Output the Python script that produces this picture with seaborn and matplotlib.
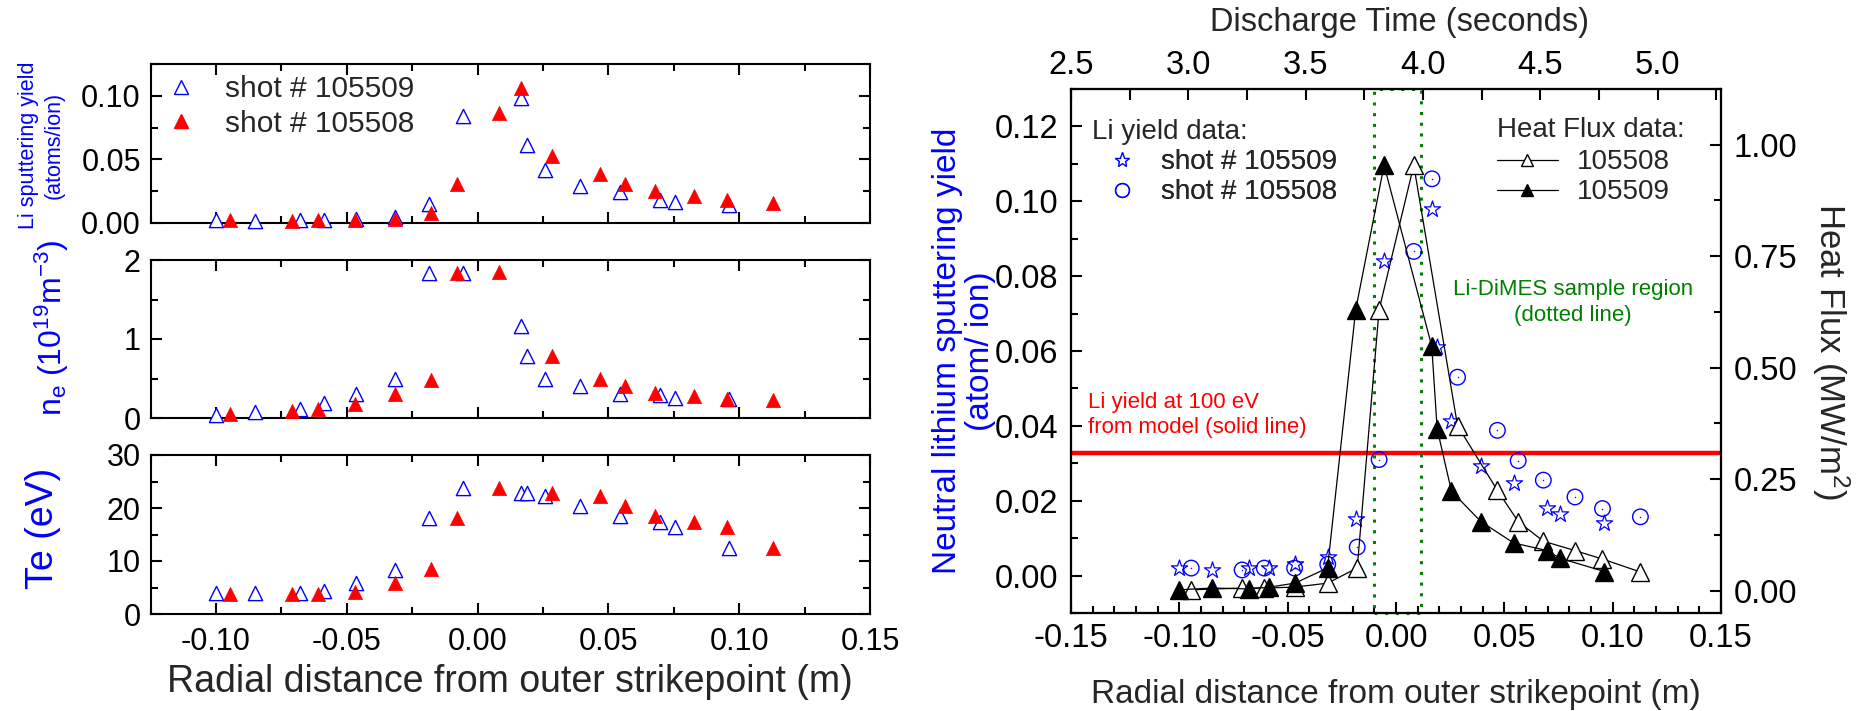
import matplotlib
matplotlib.use("Agg")
import matplotlib.pyplot as plt
from matplotlib.lines import Line2D
from matplotlib.ticker import MultipleLocator, FormatStrFormatter
import seaborn as sns

# ---- values ----
# shot 105509 (radial distance from outer strikepoint, m)
r_509 = [-0.100, -0.085, -0.068, -0.0585, -0.0466, -0.0316, -0.0186, -0.0055,
         0.0165, 0.019, 0.0256, 0.0392, 0.0543, 0.0698, 0.0755, 0.0962]
yield_509 = [0.002, 0.0015, 0.002, 0.002, 0.003, 0.005, 0.015, 0.084,
             0.098, 0.061, 0.0414, 0.0294, 0.0247, 0.018, 0.0165, 0.014]
ne_509 = [0.04, 0.08, 0.12, 0.19, 0.31, 0.49, 1.83, 1.84,
          1.16, 0.78, 0.49, 0.40, 0.31, 0.29, 0.25, 0.24]
te_509 = [4.0, 3.9, 4.0, 4.4, 5.9, 8.3, 18.2, 23.7,
          22.8, 22.8, 22.3, 20.3, 18.4, 17.4, 16.4, 12.4]
heat_509 = [0.002, 0.006, 0.004, 0.008, 0.017, 0.051, 0.630, 0.954,
            0.548, 0.363, 0.223, 0.155, 0.107, 0.090, 0.073, 0.043]

# shot 105508
r_508 = [-0.0945, -0.071, -0.0608, -0.0468, -0.0315, -0.0179, -0.0078, 0.0082,
         0.0166, 0.0284, 0.0468, 0.0564, 0.068, 0.0826, 0.0953, 0.1128]
yield_508 = [0.002, 0.0015, 0.002, 0.002, 0.003, 0.0076, 0.031, 0.0866,
             0.106, 0.053, 0.0388, 0.0307, 0.0255, 0.021, 0.0179, 0.0157]
# probe points of 105508 (no point at 0.0166)
r_508_probe = [-0.0945, -0.071, -0.0608, -0.0468, -0.0315, -0.0179, -0.0078, 0.0082,
               0.0284, 0.0468, 0.0564, 0.068, 0.0826, 0.0953, 0.1128]
ne_508 = [0.05, 0.09, 0.12, 0.18, 0.31, 0.48, 1.84, 1.85,
          0.78, 0.49, 0.40, 0.32, 0.28, 0.24, 0.23]
te_508 = [3.8, 3.8, 3.8, 4.2, 5.8, 8.4, 18.2, 23.7,
          22.8, 22.3, 20.4, 18.4, 17.4, 16.4, 12.4]
heat_508 = [0.002, 0.006, 0.006, 0.008, 0.017, 0.051, 0.630, 0.954,
            0.370, 0.225, 0.155, 0.111, 0.090, 0.071, 0.042]

model_yield = 0.0328          # Li yield at 100 eV from model
dimes_region = [-0.010, 0.0115]
time_range = [2.5, 5.27]      # discharge time matching the radial axis

W_PX, H_PX = 1866, 711
BLUE, RED, GREEN = "#0000ff", "#ff0000", "#008000"

sns.set_style("ticks")
plt.rcParams["font.family"] = ["Liberation Sans", "DejaVu Sans"]
plt.rcParams["mathtext.fontset"] = "custom"
plt.rcParams["mathtext.rm"] = "Liberation Sans"
plt.rcParams["mathtext.it"] = "Liberation Sans"
plt.rcParams["mathtext.default"] = "regular"
plt.rcParams["axes.unicode_minus"] = False
plt.rcParams["axes.linewidth"] = 1.5
plt.rcParams["axes.edgecolor"] = "black"


def px_rect(left, top, right, bottom):
    return [left / W_PX, 1 - bottom / H_PX, (right - left) / W_PX, (bottom - top) / H_PX]


def fig_xy(x, y):
    return x / W_PX, 1 - y / H_PX


def style_ticks(ax, size, pad, **sides):
    ax.tick_params(which="both", direction="in", width=1.5, labelsize=size,
                   pad=pad, colors="black", **sides)
    ax.tick_params(which="major", length=8)
    ax.tick_params(which="minor", length=5)


fig = plt.figure(figsize=(W_PX / 100, H_PX / 100), dpi=100)

# ---------------- left column: yield, ne, Te ----------------
ax_y = fig.add_axes(px_rect(150.5, 64, 870, 223))
ax_n = fig.add_axes(px_rect(150.5, 260, 870, 418))
ax_t = fig.add_axes(px_rect(150.5, 455, 870, 614))

panels = [(ax_y, yield_509, yield_508, r_508, (0, 0.125), 0.05, 0.025, "%.2f"),
          (ax_n, ne_509, ne_508, r_508_probe, (0, 2), 1, 0.5, "%d"),
          (ax_t, te_509, te_508, r_508_probe, (0, 30), 10, 5, "%d")]

for ax, v509, v508, x508, ylim, major, minor, fmt in panels:
    sns.scatterplot(x=r_509, y=v509, ax=ax, marker="^", s=105, color=BLUE,
                    facecolor="white", edgecolor=BLUE, linewidth=1.0,
                    clip_on=False, zorder=3)
    sns.scatterplot(x=x508, y=v508, ax=ax, marker="^", s=105, color=RED,
                    edgecolor=RED, linewidth=0.5, clip_on=False, zorder=3)
    ax.set_xlim(-0.125, 0.15)
    ax.set_ylim(*ylim)
    ax.xaxis.set_major_locator(MultipleLocator(0.05))
    ax.xaxis.set_minor_locator(MultipleLocator(0.025))
    ax.xaxis.set_major_formatter(FormatStrFormatter("%.2f"))
    ax.yaxis.set_major_locator(MultipleLocator(major))
    ax.yaxis.set_minor_locator(MultipleLocator(minor))
    ax.yaxis.set_major_formatter(FormatStrFormatter(fmt))
    style_ticks(ax, 22, 7, top=True, right=True)
    ax.tick_params(axis="x", pad=9)
    if ax is not ax_t:
        ax.tick_params(axis="x", labelbottom=False)
    for sp in ax.spines.values():
        sp.set_visible(True)

left_handles = [Line2D([], [], ls="none", marker="^", ms=10, mfc="white", mec=BLUE, mew=1.0),
                Line2D([], [], ls="none", marker="^", ms=10, mfc=RED, mec=RED)]
ax_y.legend(left_handles, ["shot # 105509", "shot # 105508"], loc="upper left",
            bbox_to_anchor=(0.021, 0.93), frameon=False, fontsize=21.5,
            handlelength=1.0, handletextpad=1.0, labelspacing=0.22,
            borderaxespad=0, borderpad=0)

ax_y.set_ylabel("Li sputtering yield\n(atoms/ion)", color=BLUE, fontsize=15.5, linespacing=1.3)
ax_y.yaxis.set_label_coords(*fig_xy(41.5, 145), transform=fig.transFigure)
ax_n.set_ylabel("n$_e$ (10$^{19}$m$^{-3}$)", color=BLUE, fontsize=23)
ax_n.yaxis.set_label_coords(*fig_xy(52, 328), transform=fig.transFigure)
ax_t.set_ylabel("Te (eV)", color=BLUE, fontsize=27)
ax_t.yaxis.set_label_coords(*fig_xy(43, 528), transform=fig.transFigure)
for ax in (ax_y, ax_n, ax_t):
    ax.yaxis.label.set_va("center")
ax_t.set_xlabel("Radial distance from outer strikepoint (m)", fontsize=27)
ax_t.xaxis.set_label_coords(*fig_xy(510, 682), transform=fig.transFigure)
ax_t.xaxis.label.set_va("center")

# ---------------- right panel: yield + heat flux vs radius / time ----------------
ax = fig.add_axes(px_rect(1071, 89, 1721, 613))
ax_hf = ax.twinx()
ax_time = ax.twiny()

ax.axhline(model_yield, color=RED, lw=3.2, zorder=2)
ax.axvspan(dimes_region[0], dimes_region[1], fill=False, ec=GREEN, lw=2.2,
           ls=(0, (1, 2.5)), clip_on=False, zorder=2)

sns.scatterplot(x=r_509, y=yield_509, ax=ax, marker="*", s=150, color=BLUE,
                facecolor="white", edgecolor=BLUE, linewidth=0.9, zorder=3)
sns.scatterplot(x=r_508, y=yield_508, ax=ax, marker="o", s=125, color=BLUE,
                facecolor="none", edgecolor=BLUE, linewidth=1.0, zorder=3)
sns.scatterplot(x=r_508, y=yield_508, ax=ax, marker=".", s=3, color=BLUE,
                edgecolor=BLUE, zorder=3)

sns.lineplot(x=r_508_probe, y=heat_508, ax=ax_hf, sort=False, color="black", lw=0.9,
             marker="^", markersize=13, markerfacecolor="white",
             markeredgecolor="black", markeredgewidth=1.0, zorder=4)
sns.lineplot(x=r_509, y=heat_509, ax=ax_hf, sort=False, color="black", lw=0.9,
             marker="^", markersize=13, markerfacecolor="black",
             markeredgecolor="black", markeredgewidth=1.0, zorder=4)

ax.set_xlim(-0.15, 0.15)
ax.set_ylim(-0.01, 0.13)
ax_hf.set_ylim(-0.05, 1.125)
ax_time.set_xlim(*time_range)

ax.xaxis.set_major_locator(MultipleLocator(0.05))
ax.xaxis.set_minor_locator(MultipleLocator(0.01))
ax.xaxis.set_major_formatter(FormatStrFormatter("%.2f"))
ax.yaxis.set_major_locator(MultipleLocator(0.02))
ax.yaxis.set_minor_locator(MultipleLocator(0.01))
ax.yaxis.set_major_formatter(FormatStrFormatter("%.2f"))
ax_hf.yaxis.set_major_locator(MultipleLocator(0.25))
ax_hf.yaxis.set_minor_locator(MultipleLocator(0.125))
ax_hf.yaxis.set_major_formatter(FormatStrFormatter("%.2f"))
ax_time.xaxis.set_major_locator(MultipleLocator(0.5))
ax_time.xaxis.set_minor_locator(MultipleLocator(0.25))
ax_time.xaxis.set_major_formatter(FormatStrFormatter("%.1f"))

style_ticks(ax, 23.5, 9, top=False, right=False)
ax.tick_params(axis="x", pad=7)
style_ticks(ax_hf, 23.5, 9)
style_ticks(ax_time, 23.5, 6)
ax_time.tick_params(which="minor", length=8)
for a in (ax, ax_hf, ax_time):
    for sp in a.spines.values():
        sp.set_visible(True)

ax.set_xlabel("Radial distance from outer strikepoint (m)", fontsize=24)
ax.xaxis.set_label_coords(*fig_xy(1396, 695), transform=fig.transFigure)
ax.xaxis.label.set_va("center")
ax.set_ylabel("Neutral lithium sputtering yield\n(atom/ ion)", color=BLUE,
              fontsize=24, linespacing=1.1)
ax.yaxis.set_label_coords(*fig_xy(964, 351), transform=fig.transFigure)
ax.yaxis.label.set_va("center")
ax_hf.set_ylabel("Heat Flux (MW/m$^2$)", fontsize=25, rotation=270)
ax_hf.yaxis.set_label_coords(*fig_xy(1831, 351), transform=fig.transFigure)
ax_hf.yaxis.label.set_va("center")
ax_time.set_xlabel("Discharge Time (seconds)", fontsize=23.5)
ax_time.xaxis.set_label_coords(*fig_xy(1400, 23), transform=fig.transFigure)
ax_time.xaxis.label.set_va("center")

# legends and notes
ax.text(0.032, 0.918, "Li yield data:", transform=ax.transAxes, fontsize=20, va="center")
ax.text(0.655, 0.922, "Heat Flux data:", transform=ax.transAxes, fontsize=20, va="center")

yield_handles = [Line2D([], [], ls="none", marker="*", ms=11, mfc="white", mec=BLUE, mew=0.9),
                 Line2D([], [], ls="none", marker="o", ms=10, mfc="none", mec=BLUE, mew=1.0)]
leg = ax.legend(yield_handles, ["shot # 105509", "shot # 105508"], loc="upper left",
                bbox_to_anchor=(0.057, 0.885), frameon=False, fontsize=20,
                handlelength=1.0, handletextpad=0.9, labelspacing=0.15,
                borderaxespad=0, borderpad=0)
ax.add_artist(leg)

hf_handles = [Line2D([], [], color="black", lw=0.9, marker="^", ms=9, mfc="white", mec="black"),
              Line2D([], [], color="black", lw=0.9, marker="^", ms=9, mfc="black", mec="black")]
ax_hf.legend(hf_handles, ["105508", "105509"], loc="upper left",
             bbox_to_anchor=(0.655, 0.885), frameon=False, fontsize=20,
             handlelength=2.2, handletextpad=0.7, labelspacing=0.15,
             borderaxespad=0, borderpad=0)

ax.text(0.0815, 0.0729, "Li-DiMES sample region\n(dotted line)", color=GREEN,
        fontsize=16, ha="center", va="center", linespacing=1.3)
ax.text(-0.1422, 0.0428, "Li yield at 100 eV\nfrom model (solid line)", color=RED,
        fontsize=16, ha="left", va="center", linespacing=1.25)

fig.savefig("out.png", dpi=100)
